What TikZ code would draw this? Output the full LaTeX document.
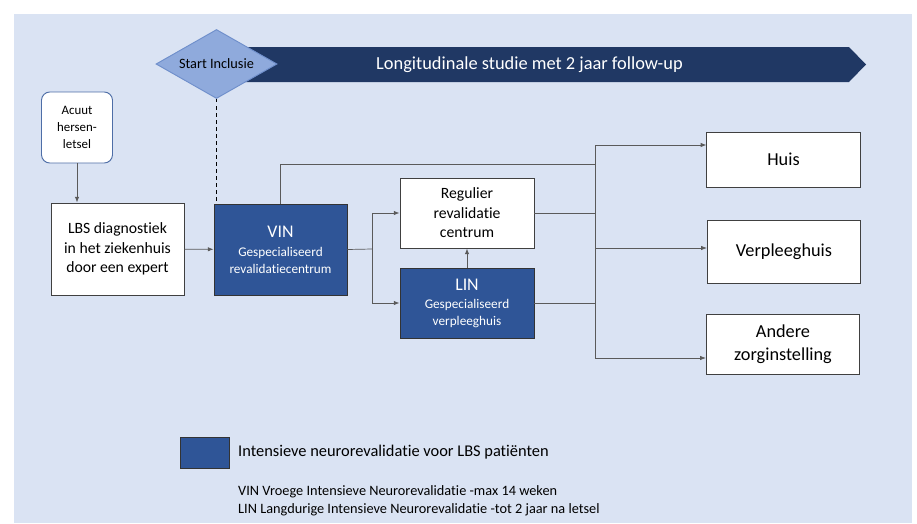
\documentclass[tikz,border=0pt]{standalone}
\usepackage{fontspec}
\setmainfont{Carlito}[Ligatures=NoCommon]
\definecolor{bgBlue}{HTML}{DAE3F3}
\definecolor{mNavy}{HTML}{203864}
\definecolor{mBlue}{HTML}{2F5597}
\definecolor{mLight}{HTML}{8FAADC}
\definecolor{mLightEdge}{HTML}{6F8FCB}
\definecolor{mEdge}{HTML}{404040}
\definecolor{mLine}{HTML}{5A5A5A}
\usetikzlibrary{calc, shapes.geometric, arrows.meta, positioning}

\begin{document}
\begin{tikzpicture}
		[x=0.03cm, y=-0.03cm, >={Latex[length=1.7mm,width=1.3mm]},
		block/.style ={rectangle, draw=mEdge, line width=0.8pt, fill=white, align=center, minimum width=4.02cm, minimum height=2.1cm, inner sep=1pt, font=\fontsize{13.4}{16.6}\selectfont},
		block2/.style ={rectangle, draw=black!80, line width=0.8pt, fill=mBlue, text=white, align=center, minimum width=4.02cm, minimum height=2.1cm, inner sep=1pt, font=\fontsize{11.3}{14.5}\selectfont},
		block3/.style ={rectangle, draw=mEdge, line width=0.8pt, fill=white, align=center, minimum width=4.6cm, inner sep=1pt, font=\fontsize{15.6}{19.4}\selectfont},
		block4/.style ={rectangle, draw=mBlue!85, line width=0.8pt, fill=white, align=center, rounded corners=0.25cm, minimum width=2.13cm, minimum height=2.13cm, inner sep=1pt, font=\fontsize{11}{14.5}\selectfont},
		conn/.style ={draw=mLine, line width=0.6pt}]
		\useasboundingbox (0,0) rectangle (917,523);
		\fill[bgBlue] (14,14) rectangle (912,523);

		% banner and start of inclusion
		\fill[mNavy] (216,47) -- (849,47) -- (866,64.5) -- (849,82) -- (216,82) -- cycle;
		\draw (529.5,64.5) node[text=white, font=\fontsize{15.7}{19}\selectfont] (study) {Longitudinale studie met 2 jaar follow-up};
		\draw (216.5,64) node[diamond, aspect=1.75, draw=mLightEdge, line width=0.8pt, fill=mLight, minimum width=3.63cm, minimum height=2.07cm, inner sep=0pt, font=\fontsize{12.2}{14}\selectfont] (start) {Start Inclusie};

		\draw (77,127.5) node[block4] (acuut) {Acuut\\hersen-\\letsel};
		\draw (117.5,249) node[block, minimum width=3.99cm, minimum height=2.76cm] (lbs) {LBS diagnostiek\\in het ziekenhuis\\door een expert};
		\draw (280.5,249.5) node[block2, minimum width=3.99cm, minimum height=2.73cm] (vin) {{\fontsize{15.2}{18}\selectfont VIN}\\[2pt]Gespecialiseerd\\revalidatiecentrum};

		\draw (467,213) node[block] (reg) {Regulier\\revalidatie\\centrum};
		\draw (467,303) node[block2] (lin) {{\fontsize{15.2}{18}\selectfont LIN}\\[1pt]Gespecialiseerd\\verpleeghuis};

		\draw (783.5,159.5) node[block3, minimum height=1.65cm] (huis) {Huis};
		\draw (784,251.5) node[block3, minimum height=1.89cm] (verpl) {Verpleeghuis};
		\draw (783,344) node[block3, minimum height=1.8cm] (andere) {Andere\\zorginstelling};

		% junctions
		\coordinate (s1) at (372,249);
		\coordinate (j0) at (595,164);
		\coordinate (b1) at (595,145);
		\coordinate (b2) at (595,248);
		\coordinate (b3) at (595,358);

		\draw[dashed, line width=0.6pt] (start.south) -- (start.south |- vin.north);
		\draw[conn, ->] (acuut.south) -- (acuut.south |- lbs.north);
		\draw (lbs) edge [->, conn] (vin);
		\draw[conn] (vin.east) -- (s1);
		\draw[conn, ->] (s1) |- (reg.west);
		\draw[conn, ->] (s1) |- (lin.west);
		\draw (lin) edge [->, conn] (reg);
		\draw[conn] (vin.north) |- (j0);
		\draw[conn] (reg.east) -- (reg.east -| b1);
		\draw[conn] (lin.east) -- (lin.east -| b1);
		\draw[conn] (b1) -- (b3);
		\draw[conn, ->] (b1) -- (b1 -| huis.west);
		\draw[conn, ->] (b2) -- (b2 -| verpl.west);
		\draw[conn, ->] (b3) -- (b3 -| andere.west);

		% legend
		\draw (204.5,452.5) node[block2, minimum width=1.47cm, minimum height=0.93cm] (key) {};
		\draw (238,452) node[anchor=west, inner sep=0pt, font=\fontsize{14}{17}\selectfont] (keytext) {Intensieve neurorevalidatie voor LBS patiënten};
		\draw (238,500.5) node[anchor=west, inner sep=0pt, align=left, font=\fontsize{12.2}{15.4}\selectfont] (notes) {VIN Vroege Intensieve Neurorevalidatie -max 14 weken\\LIN Langdurige Intensieve Neurorevalidatie -tot 2 jaar na letsel};

	\end{tikzpicture}
\end{document}
